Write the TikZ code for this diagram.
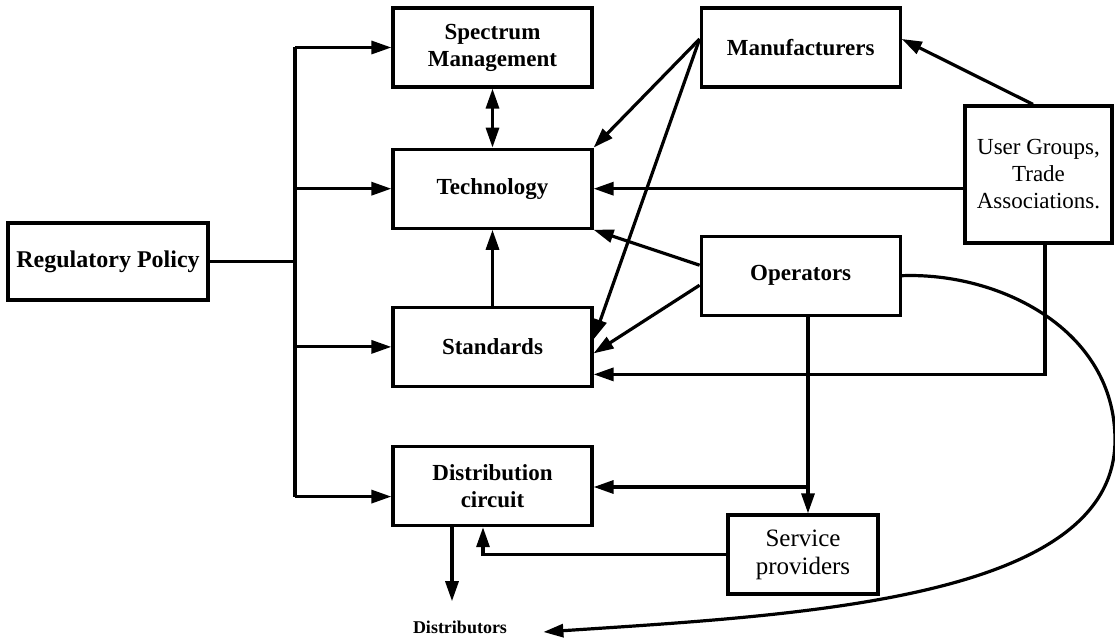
\documentclass[tikz,border=0pt]{standalone}
\usepackage{fontspec}
\setmainfont{Liberation Serif}
\usetikzlibrary{positioning, arrows.meta}

\begin{document}
\begin{tikzpicture}[
      x=0.5pt, y=-0.5pt,
      node distance=29.5pt and 53pt,
      font=\fontsize{11.5}{13.5}\selectfont,
      >={Triangle[length=10pt, width=6.5pt]},
      box/.style={rectangle, draw=black, line width=1.6pt, align=center,
                  minimum width=99.5pt, minimum height=39.5pt, inner sep=2pt},
      heavy/.style={font=\fontsize{11.5}{13.5}\selectfont\bfseries},
      arrow/.style={->, line width=1.6pt},
      link/.style={line width=1.6pt}
  ]
  \useasboundingbox (0,0) rectangle (1115,640);

  \node[box, heavy, font=\fontsize{12}{14}\selectfont\bfseries,
        minimum width=100pt, minimum height=38.5pt] (reg) at (108,261.5) {Regulatory Policy};
  \node[box, heavy]                  (spec)  at (492.5,47.5) {Spectrum\\ Management};
  \node[box, heavy, below=of spec]   (tech)  {Technology};
  \node[box, heavy, below=38pt of tech]   (std)   {Standards};
  \node[box, heavy, below=28.5pt of std]  (dist)  {Distribution\\ circuit};
  \node[box, heavy, right=of spec]   (manu)  {Manufacturers};
  \node[box, heavy, below=73pt of manu]   (oper)  {Operators};
  \node[box, minimum width=73.5pt, minimum height=68.5pt]
                                     (users) at (1038.5,174.5) {User Groups,\\ Trade\\ Associations.};
  \node[box, minimum width=75pt, font=\fontsize{12.5}{14}\selectfont]
                                     (serv)  at (803,554.5) {Service\\ providers};
  \node[inner sep=0pt, font=\fontsize{9}{11}\selectfont\bfseries]
                                     (distr) at (460,627) {Distributors};

  \coordinate (bus)   at (295,261.5);
  \coordinate (distin) at ([yshift=-5.25pt]dist.west);
  \coordinate (junc)  at (808,487);

  % policy bus
  \draw[link] (reg) -- (bus);
  \draw[link] (spec.west -| bus) -- (distin -| bus);
  \foreach \n in {spec, tech, std}
    \draw[arrow] (\n.west -| bus) -- (\n.west);
  \draw[arrow] (distin -| bus) -- (distin);

  \draw[<->, line width=1.6pt] (spec) -- (tech);
  \draw[arrow] (std) -- (tech);

  % manufacturers and user groups
  \draw[arrow] ([yshift=4.25pt]manu.west) -- (tech.north east);
  \draw[arrow] ([yshift=4.25pt]manu.west) -- ([yshift=3.75pt]std.east);
  \draw[arrow] ([xshift=-2.75pt]users.north) -- ([yshift=4.25pt]manu.east);
  \draw[arrow] (users.west |- tech.east) -- (tech.east);
  \draw[arrow] ([xshift=3.25pt]users.south) |- ([yshift=-13.75pt]std.east);

  % operators
  \draw[arrow] ([yshift=5.25pt]oper.west) -- (tech.south east);
  \draw[arrow] ([yshift=-4.75pt]oper.west) -- ([yshift=-3.25pt]std.east);
  \draw[arrow] (oper.south -| junc) -- (serv.north -| junc);
  \draw[arrow] (junc) -- (junc -| dist.east);
  \draw[arrow] (serv.west) -| ([xshift=-4.75pt]dist.south);
  \draw[arrow, shorten >=9.5pt] ([xshift=-20.25pt]dist.south)
        -- ([xshift=-20.25pt]dist.south |- distr.north);
  \draw[arrow] (oper.east) .. controls (1000,272) and (1115,330) .. (1115,440)
        .. controls (1115,600) and (800,615) .. ([shift={(18pt,-2.5pt)}]distr.east);
\end{tikzpicture}
\end{document}
